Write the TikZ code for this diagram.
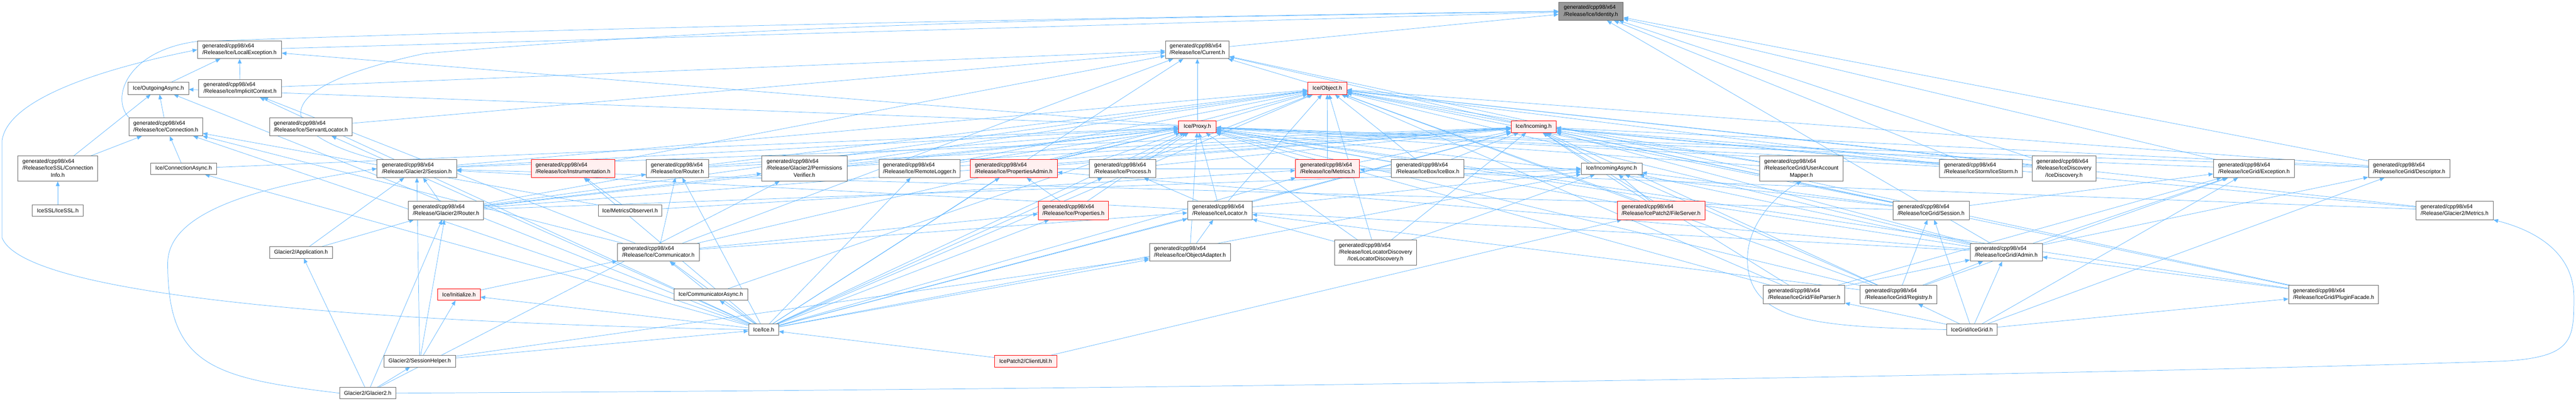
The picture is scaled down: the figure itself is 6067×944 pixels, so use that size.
\documentclass[tikz,border=0pt]{standalone}
\usepackage{fontspec}
\setmainfont{Liberation Sans}
\usetikzlibrary{arrows.meta}
\definecolor{ecol}{HTML}{63B8FF}
\definecolor{ncol}{HTML}{666666}
\definecolor{rootfill}{HTML}{999999}
\definecolor{tfill}{HTML}{FFF0F0}
\pgfdeclarelayer{edgelayer}
\pgfsetlayers{edgelayer,main}
\newcommand{\twol}[2]{\begin{tabular}{@{}l@{}}#1\\#2\end{tabular}}
\newcommand{\threel}[3]{\begin{tabular}{@{}l@{}}#1\\#2\\\multicolumn{1}{@{}c@{}}{#3}\end{tabular}}
\newcommand{\gen}{generated/cpp98/x64}
\tikzset{
  nd/.style={draw=ncol, fill=white, line width=1pt, inner sep=0pt, align=center,
    font=\fontsize{13}{16}\selectfont},
  trunc/.style={nd, draw=red, fill=tfill},
  rootnd/.style={nd, fill=rootfill},
  ed/.style={draw=ecol, line width=0.9pt, -{Triangle[length=11pt,width=9pt]}},
}
\begin{document}
\begin{tikzpicture}[x=1pt,y=1pt]
\begin{pgfonlayer}{edgelayer}
\fill[white] (0,0) rectangle (6067,-944);
\end{pgfonlayer}
\useasboundingbox (0,0) rectangle (6067,-944);
% ---------------- nodes ----------------
\node[rootnd, minimum width=152, minimum height=43] (Identity) at (3747,-26.5) {\twol{\gen}{/Release/Ice/Identity.h}};
\node[nd, minimum width=198, minimum height=42] (LocExc) at (564,-117) {\twol{\gen}{/Release/Ice/LocalException.h}};
\node[nd, minimum width=150, minimum height=42] (Current) at (2820,-117) {\twol{\gen}{/Release/Ice/Current.h}};
\node[nd, minimum width=142, minimum height=28] (OutAsync) at (373,-208) {Ice/OutgoingAsync.h};
\node[nd, minimum width=195, minimum height=42] (ImplCtx) at (565.5,-208) {\twol{\gen}{/Release/Ice/ImplicitContext.h}};
\node[trunc, minimum width=92, minimum height=28] (Object) at (3126,-208) {Ice/Object.h};
\node[nd, minimum width=173, minimum height=43] (Connection) at (390.5,-298.5) {\twol{\gen}{/Release/Ice/Connection.h}};
\node[nd, minimum width=194, minimum height=43] (ServLoc) at (732,-298.5) {\twol{\gen}{/Release/Ice/ServantLocator.h}};
\node[trunc, minimum width=88, minimum height=27] (Proxy) at (2820,-298.5) {Ice/Proxy.h};
\node[trunc, minimum width=106, minimum height=27] (Incoming) at (3612,-298.5) {Ice/Incoming.h};
% row 397
\node[nd, minimum width=188, minimum height=59] (ConnInfo) at (136,-397) {\threel{\gen}{/Release/IceSSL/Connection}{Info.h}};
\node[nd, minimum width=155, minimum height=27] (ConnAsync) at (432.5,-397) {Ice/ConnectionAsync.h};
\node[nd, minimum width=187, minimum height=42] (GSession) at (981.5,-397) {\twol{\gen}{/Release/Glacier2/Session.h}};
\node[trunc, minimum width=197, minimum height=42] (Instr) at (1349.5,-397) {\twol{\gen}{/Release/Ice/Instrumentation.h}};
\node[nd, minimum width=147, minimum height=42] (IRouter) at (1595.5,-397) {\twol{\gen}{/Release/Ice/Router.h}};
\node[nd, minimum width=201, minimum height=59] (PermVer) at (1894.5,-397) {\threel{\gen}{/Release/Glacier2/Permissions}{Verifier.h}};
\node[nd, minimum width=191, minimum height=42] (RemLog) at (2165.5,-397) {\twol{\gen}{/Release/Ice/RemoteLogger.h}};
\node[trunc, minimum width=205, minimum height=42] (PropAdmin) at (2387.5,-397) {\twol{\gen}{/Release/Ice/PropertiesAdmin.h}};
\node[nd, minimum width=156, minimum height=42] (Process) at (2644,-397) {\twol{\gen}{/Release/Ice/Process.h}};
\node[trunc, minimum width=151, minimum height=42] (Metrics) at (3126.5,-397) {\twol{\gen}{/Release/Ice/Metrics.h}};
\node[nd, minimum width=171, minimum height=42] (IceBox) at (3362.5,-397) {\twol{\gen}{/Release/IceBox/IceBox.h}};
\node[nd, minimum width=143, minimum height=27] (IncAsync) at (3795.5,-397) {Ice/IncomingAsync.h};
\node[nd, minimum width=197, minimum height=59] (UAM) at (4242.5,-397) {\threel{\gen}{/Release/IceGrid/UserAccount}{Mapper.h}};
\node[nd, minimum width=195, minimum height=42] (IceStorm) at (4665.5,-397) {\twol{\gen}{/Release/IceStorm/IceStorm.h}};
\node[nd, minimum width=150, minimum height=59] (IceDisc) at (4861,-397) {\threel{\gen}{/Release/IceDiscovery}{/IceDiscovery.h}};
\node[nd, minimum width=191, minimum height=42] (GException) at (5308.5,-397) {\twol{\gen}{/Release/IceGrid/Exception.h}};
\node[nd, minimum width=192, minimum height=42] (Descriptor) at (5674,-397) {\twol{\gen}{/Release/IceGrid/Descriptor.h}};
% row 496
\node[nd, minimum width=120, minimum height=27] (IceSSL) at (136,-496) {IceSSL/IceSSL.h};
\node[nd, minimum width=177, minimum height=43] (GRouter) at (1050.5,-495.5) {\twol{\gen}{/Release/Glacier2/Router.h}};
\node[nd, minimum width=150, minimum height=27] (MObsI) at (1484,-496) {Ice/MetricsObserverI.h};
\node[trunc, minimum width=166, minimum height=43] (Properties) at (2528,-495.5) {\twol{\gen}{/Release/Ice/Properties.h}};
\node[nd, minimum width=152, minimum height=43] (Locator) at (2873,-495.5) {\twol{\gen}{/Release/Ice/Locator.h}};
\node[trunc, minimum width=206, minimum height=43] (FileServer) at (3912,-495.5) {\twol{\gen}{/Release/IcePatch2/FileServer.h}};
\node[nd, minimum width=180, minimum height=43] (GridSession) at (4548,-495.5) {\twol{\gen}{/Release/IceGrid/Session.h}};
\node[nd, minimum width=182, minimum height=43] (GMetrics) at (5781,-495.5) {\twol{\gen}{/Release/Glacier2/Metrics.h}};
% row 594
\node[nd, minimum width=148, minimum height=27] (Application) at (709,-594.5) {Glacier2/Application.h};
\node[nd, minimum width=193, minimum height=42] (Communicator) at (1550.5,-594) {\twol{\gen}{/Release/Ice/Communicator.h}};
\node[nd, minimum width=191, minimum height=42] (ObjAdapter) at (2802.5,-594) {\twol{\gen}{/Release/Ice/ObjectAdapter.h}};
\node[nd, minimum width=193, minimum height=59] (ILocDisc) at (3239.5,-594.5) {\threel{\gen}{/Release/IceLocatorDiscovery}{/IceLocatorDiscovery.h}};
\node[nd, minimum width=170, minimum height=42] (Admin) at (4725,-594) {\twol{\gen}{/Release/IceGrid/Admin.h}};
% row 693
\node[trunc, minimum width=100, minimum height=27] (Initialize) at (1081,-693.5) {Ice/Initialize.h};
\node[nd, minimum width=174, minimum height=27] (CommAsync) at (1674,-693.5) {Ice/CommunicatorAsync.h};
\node[nd, minimum width=192, minimum height=43] (FileParser) at (4249,-693.5) {\twol{\gen}{/Release/IceGrid/FileParser.h}};
\node[nd, minimum width=181, minimum height=43] (Registry) at (4471.5,-693.5) {\twol{\gen}{/Release/IceGrid/Registry.h}};
\node[nd, minimum width=212, minimum height=43] (PluginFacade) at (5496,-693.5) {\twol{\gen}{/Release/IceGrid/PluginFacade.h}};
% row 776
\node[nd, minimum width=71, minimum height=26] (IceH) at (1798.5,-776) {Ice/Ice.h};
\node[nd, minimum width=118, minimum height=26] (IceGridH) at (4644,-776) {IceGrid/IceGrid.h};
% row 850
\node[nd, minimum width=169, minimum height=27] (SessHelper) at (988.5,-850.5) {Glacier2/SessionHelper.h};
\node[trunc, minimum width=147, minimum height=27] (ClientUtil) at (2415.5,-850.5) {IcePatch2/ClientUtil.h};
% row 925
\node[nd, minimum width=132, minimum height=27] (Glacier2H) at (866,-925.5) {Glacier2/Glacier2.h};
% ---------------- edges ----------------
\begin{pgfonlayer}{edgelayer}
% curved special edges
\draw[ed] (IceH.west) .. controls (900,-760) and (60,-700) .. (5,-560) -- (5,-330) .. controls (20,-230) and (250,-160) .. (LocExc.west);
\draw[ed] (Connection.north west) .. controls (260,-230) and (300,-120) .. (460,-98) .. controls (1500,-60) and (3000,-35) .. (Identity.west);
\draw[ed] (Glacier2H.east) .. controls (3000,-915) and (5000,-880) .. (5900,-850) .. controls (6060,-840) and (6062,-800) .. (6062,-700) .. controls (6062,-600) and (5980,-545) .. (GMetrics.south east);
\draw[ed] (Glacier2H.west) .. controls (500,-890) and (395,-860) .. (395,-620) .. controls (395,-500) and (600,-440) .. (GSession.west);
\draw[ed] (IceGridH.west) .. controls (4300,-770) and (4140,-760) .. (4118,-640) .. controls (4100,-540) and (4180,-460) .. (UAM.south);
\draw[ed] (GSession.north west) .. controls (700,-330) and (560,-220) .. (1000,-126) .. controls (2000,-40) and (3000,-40) .. (Identity.west);
% top layers
\draw[ed] (LocExc) -- (Identity);
\draw[ed] (Current) -- (Identity);
\draw[ed] (OutAsync) -- (LocExc);
\draw[ed] (ImplCtx) -- (LocExc);
\draw[ed] (ImplCtx) -- (Current);
\draw[ed] (Object) -- (Current);
\draw[ed] (Proxy) -- (Current);
\draw[ed] (Proxy) -- (Object);
\draw[ed] (Proxy) -- (OutAsync);
\draw[ed] (Proxy) -- (LocExc);
\draw[ed] (Incoming) -- (Object);
\draw[ed] (Incoming) -- (Current);
\draw[ed] (Connection) -- (OutAsync);
\draw[ed] (ServLoc) -- (Current);
\draw[ed] (ConnInfo) -- (Connection);
\draw[ed] (ConnInfo) -- (OutAsync);
\draw[ed] (IceSSL) -- (ConnInfo);
\draw[ed] (ConnAsync) -- (Connection);
\draw[ed] (ConnAsync) -- (Proxy);
\draw[ed] (GSession) -- (Proxy);
\draw[ed] (GSession) -- (Object);
\draw[ed] (GSession) -- (Incoming);
\draw[ed] (Instr) -- (Current);
\foreach \n in {IRouter,PermVer,RemLog,PropAdmin,Process,Metrics,IceBox,UAM,IceStorm,IceDisc,Descriptor,GRouter,Locator,FileServer,GridSession,ILocDisc,Admin,FileParser,Registry}{
  \draw[ed] (\n) -- (Proxy);
  \draw[ed] (\n) -- (Object);
  \draw[ed] (\n) -- (Incoming);
}
\foreach \n in {PropAdmin,Metrics,GRouter,Locator,FileServer,GridSession,ILocDisc,Admin,Registry}{
  \draw[ed] (\n) -- (IncAsync);
}
\draw[ed] (IncAsync) -- (Incoming);
\draw[ed] (IceStorm) -- (Identity);
\draw[ed] (IceDisc) -- (Identity);
\draw[ed] (GException) -- (Identity);
\draw[ed] (GException) -- (Proxy);
\draw[ed] (Descriptor) -- (Identity);
\draw[ed] (Admin) -- (Identity);
% glacier2
\draw[ed] (GRouter) -- (GSession);
\draw[ed] (GRouter) -- (IRouter);
\draw[ed] (GRouter) -- (PermVer);
\draw[ed] (Application) -- (GSession);
\draw[ed] (Application) -- (GRouter);
\draw[ed] (Glacier2H) -- (Application);
\draw[ed] (Glacier2H) -- (SessHelper);
\draw[ed] (Glacier2H) -- (GRouter);
\draw[ed] (Glacier2H) -- (PermVer);
\draw[ed] (SessHelper) -- (GSession);
\draw[ed] (SessHelper) -- (GRouter);
\draw[ed] (SessHelper) -- (Initialize);
\draw[ed] (SessHelper) -- (IceH);
\draw[ed] (SessHelper) -- (ObjAdapter);
\draw[ed] (GMetrics) -- (Metrics);
\draw[ed] (GMetrics) -- (Object);
\draw[ed] (GMetrics) -- (Incoming);
% ice runtime
\draw[ed] (MObsI) -- (Instr);
\draw[ed] (MObsI) -- (Connection);
\draw[ed] (MObsI) -- (Metrics);
\draw[ed] (Properties) -- (PropAdmin);
\draw[ed] (Properties) -- (Proxy);
\draw[ed] (Locator) -- (Process);
\draw[ed] (Communicator) -- (IRouter);
\draw[ed] (Communicator) -- (Locator);
\draw[ed] (Communicator) -- (ImplCtx);
\draw[ed] (Communicator) -- (Current);
\draw[ed] (Communicator) -- (Properties);
\draw[ed] (Communicator) -- (Connection);
\draw[ed] (Communicator) -- (Proxy);
\draw[ed] (ObjAdapter) -- (Locator);
\draw[ed] (ObjAdapter) -- (Proxy);
\draw[ed] (ILocDisc) -- (Locator);
\draw[ed] (Initialize) -- (Communicator);
\draw[ed] (CommAsync) -- (Communicator);
\draw[ed] (CommAsync) -- (Proxy);
\foreach \n in {Initialize,Object,Proxy,Current,Properties,RemLog,Locator,IncAsync,Process,Instr,Connection,ConnAsync,Communicator,CommAsync,ObjAdapter,ServLoc,ImplCtx,IRouter,Metrics,PropAdmin,OutAsync,Incoming}{
  \draw[ed] (IceH) -- (\n);
}
% IcePatch2
\draw[ed] (ClientUtil) -- (IceH);
\draw[ed] (ClientUtil) -- (FileServer);
% IceGrid
\draw[ed] (GridSession) -- (GSession);
\draw[ed] (GridSession) -- (GException);
\draw[ed] (Admin) -- (PropAdmin);
\draw[ed] (Admin) -- (GSession);
\draw[ed] (Admin) -- (GException);
\draw[ed] (Admin) -- (Descriptor);
\draw[ed] (FileParser) -- (Admin);
\draw[ed] (FileParser) -- (GException);
\draw[ed] (Registry) -- (GridSession);
\draw[ed] (Registry) -- (Admin);
\draw[ed] (Registry) -- (Locator);
\draw[ed] (Registry) -- (GException);
\draw[ed] (PluginFacade) -- (Admin);
\draw[ed] (PluginFacade) -- (Current);
\draw[ed] (PluginFacade) -- (Proxy);
\draw[ed] (PluginFacade) -- (Incoming);
\foreach \n in {Admin,Descriptor,GException,FileParser,PluginFacade,Registry,GridSession}{
  \draw[ed] (IceGridH) -- (\n);
}
\end{pgfonlayer}
\end{tikzpicture}
\end{document}
